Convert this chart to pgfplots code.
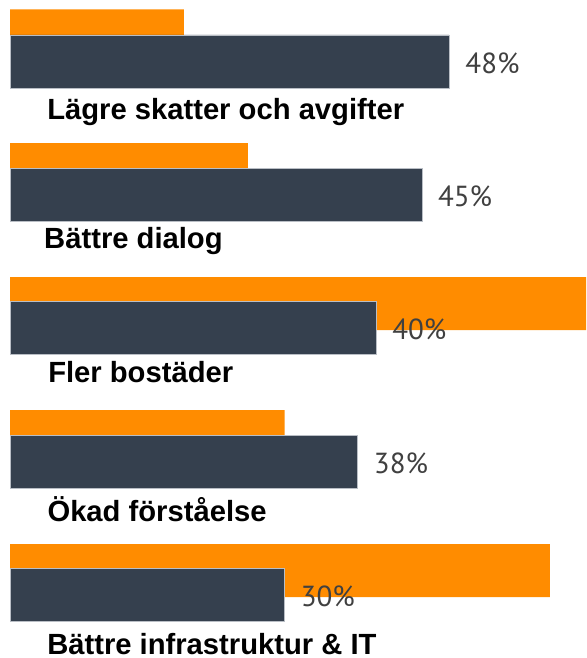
\documentclass[border=0pt]{standalone}
\usepackage{pgfplots}
\pgfplotsset{compat=1.18}
\usepackage{fontspec}
\setmainfont{Liberation Sans}
\newfontfamily\valfont{PT Sans}
\definecolor{orangebar}{RGB}{255,140,0}
\definecolor{darkbar}{RGB}{53,64,78}
\definecolor{valtext}{RGB}{64,64,64}
\begin{document}
\begin{tikzpicture}
\begin{axis}[
  scale only axis,
  width=586pt, height=658pt,
  xmin=-1.0929, xmax=62.9508,
  ymin=0, ymax=658,
  y dir=reverse,
  hide axis,
  clip=true,
  /pgf/number format/assume math mode=true,
]
% orange (background) series
\addplot[xbar, bar width=53, bar shift=0pt, fill=orangebar, draw=none]
  coordinates {(19,36) (26,169.5) (66,303.5) (30,436.5) (59,570.5)};
% dark (foreground) series
\addplot[xbar, bar width=53, bar shift=0pt, fill=darkbar,
  draw={rgb,255:red,185;green,190;blue,197}, line width=0.5pt,
  nodes near coords={\pgfmathprintnumber{\pgfplotspointmeta}\%},
  point meta=x,
  every node near coord/.style={anchor=west, inner sep=0pt, xshift=16pt, yshift=-1.5pt,
    font=\valfont\fontsize{29}{31}\selectfont, text=valtext}]
  coordinates {(48,61.5) (45,195) (40,328) (38,462) (30,595)};
% category labels
\addplot[draw=none, mark=none,
  nodes near coords, point meta=explicit symbolic,
  every node near coord/.style={anchor=base west, inner sep=0pt, text depth=0pt,
    font=\bfseries\fontsize{29.2}{31}\selectfont, text=black}]
  coordinates {
    (4.05,120) [Lägre skatter och avgifter]
    (3.72,248) [Bättre dialog]
    (4.16,382) [Fler bostäder]
    (4.08,521) [Ökad förståelse]
    (4.05,654.5) [Bättre infrastruktur \& IT]
  };
\end{axis}
\path (current axis.south west) rectangle (current axis.north east);
\end{tikzpicture}
\end{document}
